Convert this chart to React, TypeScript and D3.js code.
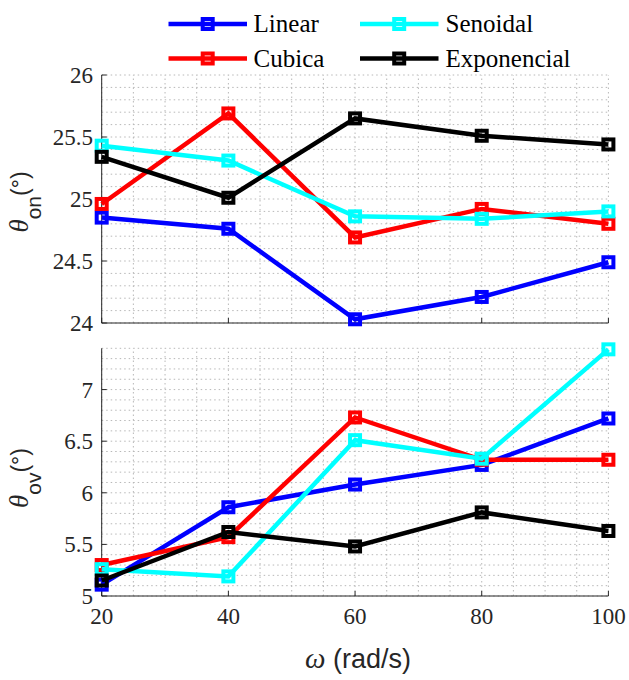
import React from "react";
import * as d3 from "d3";

const omega = [20, 40, 60, 80, 100];
const seriesNames = ["Linear", "Cubica", "Senoidal", "Exponencial"];
const seriesColors = ["#0000ff", "#ff0000", "#00ffff", "#000000"];

// theta_on (deg)
const linearOn = [24.85, 24.76, 24.03, 24.21, 24.49];
const cubicaOn = [24.96, 25.69, 24.69, 24.92, 24.8];
const senoidalOn = [25.43, 25.31, 24.86, 24.84, 24.9];
const exponOn = [25.34, 25.01, 25.65, 25.51, 25.44];

// theta_ov (deg)
const linearOv = [5.11, 5.86, 6.08, 6.27, 6.72];
const cubicaOv = [5.3, 5.57, 6.73, 6.32, 6.32];
const senoidalOv = [5.26, 5.19, 6.51, 6.33, 7.39];
const exponOv = [5.15, 5.62, 5.48, 5.81, 5.63];

const xTicks = [20, 40, 60, 80, 100];
const onTicks = [24, 24.5, 25, 25.5, 26];
const ovTicks = [5, 5.5, 6, 6.5, 7];

const W = 629;
const H = 680;
const serif = "Liberation Serif";
const sans = "Liberation Sans";
const axisColor = "#262626";
const gridColor = "#b8b8b8";

const x = d3.scaleLinear().domain([20, 100]).range([101.7, 608.4]);

const Marker = ({ cx, cy, color }) => (
  <rect x={cx - 5} y={cy - 5} width={10} height={10} fill="none" stroke={color} strokeWidth={4} />
);

const Panel = ({ y, ticks, data, minorStep, showXLabels }) => {
  const [y0, y1] = y.domain();
  const minorY = d3.range(Math.round((y1 - y0) / minorStep) + 1).map((i) => y0 + i * minorStep);
  const minorX = d3.range(20, 100.01, 5);
  const line = d3
    .line<number>()
    .x((d, i) => x(omega[i]))
    .y((d) => y(d));
  const [xl, xr] = x.range();
  const [yb, yt] = y.range();
  return (
    <g>
      {/* grid */}
      {minorY.map((v, i) => (
        <line key={"gy" + i} x1={xl} x2={xr} y1={y(v)} y2={y(v)} stroke={gridColor} strokeWidth={1} strokeDasharray="1.5,3" />
      ))}
      {minorX.map((v, i) => (
        <line key={"gx" + i} x1={x(v)} x2={x(v)} y1={yb} y2={yt} stroke={gridColor} strokeWidth={1} strokeDasharray="1.5,3" />
      ))}
      {/* axes */}
      <line x1={xl} x2={xl} y1={yb} y2={yt} stroke={axisColor} strokeWidth={1} />
      <line x1={xl} x2={xr} y1={yb} y2={yb} stroke={axisColor} strokeWidth={1} />
      {ticks.map((t) => (
        <g key={"yt" + t}>
          <line x1={xl} x2={xl + 5} y1={y(t)} y2={y(t)} stroke={axisColor} />
          <text x={93} y={y(t)} dy="0.35em" textAnchor="end" fontFamily={serif} fontSize={23} fill="#262626">
            {t}
          </text>
        </g>
      ))}
      {xTicks.map((t) => (
        <g key={"xt" + t}>
          <line x1={x(t)} x2={x(t)} y1={yb} y2={yb - 5} stroke={axisColor} />
          {showXLabels && (
            <text x={x(t)} y={624} textAnchor="middle" fontFamily={serif} fontSize={23} fill="#262626">
              {t}
            </text>
          )}
        </g>
      ))}
      {/* series */}
      {data.map((vals, s) => (
        <g key={"s" + s}>
          <path d={line(vals) || ""} fill="none" stroke={seriesColors[s]} strokeWidth={4.5} strokeLinejoin="miter" />
          {vals.map((v, i) => (
            <Marker key={i} cx={x(omega[i])} cy={y(v)} color={seriesColors[s]} />
          ))}
        </g>
      ))}
    </g>
  );
};

const YLabel = ({ cy, sub }) => (
  <text transform={`translate(28, ${cy}) rotate(-90)`} textAnchor="middle" fill="#262626">
    <tspan fontFamily={serif} fontStyle="italic" fontSize={27}>θ</tspan>
    <tspan fontFamily={sans} fontSize={21} dy={13}>{sub}</tspan>
    <tspan fontFamily={sans} fontSize={23} dy={-13}>(°)</tspan>
  </text>
);

export default function App() {
  const yOn = d3.scaleLinear().domain([24, 26]).range([323, 75]);
  const yOv = d3.scaleLinear().domain([5, 7.4]).range([596, 348.3]);
  const legendPos = [
    { lx: 168.5, ly: 24, tx: 253.6 },
    { lx: 168.5, ly: 58.5, tx: 253.6 },
    { lx: 360, ly: 24, tx: 445.6 },
    { lx: 360, ly: 58.5, tx: 445.6 },
  ];
  return (
    <svg width={W} height={H} style={{ position: "absolute", left: 0, top: 0, background: "#fff" }}>
      <Panel y={yOn} ticks={onTicks} data={[linearOn, cubicaOn, senoidalOn, exponOn]} minorStep={0.1} showXLabels={false} />
      <Panel y={yOv} ticks={ovTicks} data={[linearOv, cubicaOv, senoidalOv, exponOv]} minorStep={0.1} showXLabels={true} />
      <YLabel cy={202} sub="on" />
      <YLabel cy={478} sub="ov" />
      <text x={358} y={668} textAnchor="middle" fill="#262626">
        <tspan fontFamily={serif} fontStyle="italic" fontSize={29}>ω</tspan>
        <tspan fontFamily={sans} fontSize={27}> (rad/s)</tspan>
      </text>
      {/* legend */}
      {seriesNames.map((name, s) => {
        const p = legendPos[s];
        return (
          <g key={name}>
            <line x1={p.lx} x2={p.lx + 78.5} y1={p.ly} y2={p.ly} stroke={seriesColors[s]} strokeWidth={4.5} />
            <Marker cx={p.lx + 39.2} cy={p.ly} color={seriesColors[s]} />
            <text x={p.tx} y={p.ly + 8} fontFamily={serif} fontSize={25} fill="#000">
              {name}
            </text>
          </g>
        );
      })}
    </svg>
  );
}
